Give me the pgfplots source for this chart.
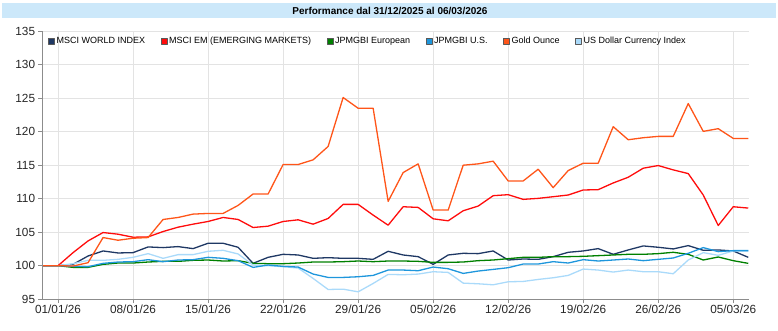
\documentclass[border=0pt]{standalone}
\usepackage{fontspec}
\setmainfont{Liberation Sans}
\usepackage{pgfplots}
\pgfplotsset{compat=1.18}
\usepackage{pgfplotstable}
\definecolor{cworld}{RGB}{31,56,100}
\definecolor{cem}{RGB}{255,12,12}
\definecolor{ceur}{RGB}{0,128,0}
\definecolor{cus}{RGB}{30,150,220}
\definecolor{cgold}{RGB}{255,85,25}
\definecolor{cusd}{RGB}{170,218,250}
\definecolor{ctitle}{RGB}{204,232,250}

\pgfplotstableread{
i world em eur us gold usd
-1 100 100 100 100 100 100
0 100 100 100 100 100 100
1 100.2 101.95 99.75 99.9 99.95 100.3
2 101.45 103.7 99.75 99.85 100.45 100.8
3 102.2 104.95 100.2 100.35 104.2 100.8
4 101.9 104.7 100.4 100.55 103.8 100.95
5 101.95 104.25 100.4 100.6 104.1 101.25
6 102.8 104.3 100.55 100.9 104.2 101.8
7 102.7 105.1 100.65 100.6 106.9 101.1
8 102.85 105.75 100.65 100.85 107.2 101.65
9 102.55 106.2 100.8 100.9 107.7 101.65
10 103.35 106.6 100.85 101.25 107.8 102.15
11 103.35 107.2 100.7 101.1 107.8 102.3
12 102.75 106.9 100.75 100.75 109.0 101.75
13 100.35 105.7 100.35 99.75 110.7 100.1
14 101.25 105.9 100.3 100.1 110.7 100.0
15 101.7 106.6 100.3 99.9 115.1 99.85
16 101.6 106.85 100.4 99.8 115.1 99.65
17 101.1 106.2 100.55 98.75 115.8 98.1
18 101.2 107.05 100.55 98.25 117.8 96.45
19 101.1 109.15 100.6 98.25 125.1 96.5
20 101.1 109.15 100.7 98.35 123.5 96.1
21 100.95 107.55 100.6 98.55 123.5 97.35
22 102.15 106.05 100.7 99.35 109.6 98.7
23 101.6 108.8 100.7 99.35 113.9 98.65
24 101.35 108.7 100.65 99.25 115.2 98.75
25 100.2 107.0 100.5 99.8 108.3 99.1
26 101.6 106.7 100.5 99.55 108.3 99.0
27 101.85 108.2 100.55 98.85 115.0 97.4
28 101.8 108.9 100.75 99.2 115.2 97.3
29 102.2 110.45 100.85 99.45 115.6 97.15
30 100.85 110.6 101.05 99.7 112.65 97.6
31 101.0 109.9 101.25 100.25 112.65 97.65
32 100.95 110.05 101.25 100.25 114.4 97.95
33 101.35 110.3 101.35 100.6 111.65 98.2
34 102.0 110.55 101.35 100.4 114.2 98.55
35 102.2 111.3 101.4 100.9 115.3 99.5
36 102.55 111.35 101.5 100.7 115.3 99.35
37 101.7 112.35 101.6 100.85 120.75 99.05
38 102.35 113.2 101.7 101.0 118.8 99.35
39 102.95 114.55 101.7 100.75 119.1 99.1
40 102.75 114.95 101.8 100.95 119.3 99.1
41 102.5 114.3 102.0 101.15 119.3 98.8
42 103.0 113.75 101.7 101.85 124.2 100.85
43 102.3 110.55 100.85 102.7 120.05 101.95
44 102.35 106.0 101.3 102.1 120.45 101.55
45 102.2 108.8 100.75 102.25 119.0 102.2
46 101.25 108.6 100.35 102.25 119.0 102.2
}\data

\begin{document}
\begin{tikzpicture}
\useasboundingbox (0bp,0bp) rectangle (778bp,331bp);
\fill[ctitle] (2bp,313bp) rectangle (776bp,328bp);
\node[font=\fontsize{10bp}{11bp}\selectfont\bfseries, inner sep=0pt] at (390bp,320.5bp) {Performance dal 31/12/2025 al 06/03/2026};
\begin{axis}[
  at={(42.3bp,31.8bp)}, anchor=south west,
  scale only axis, width=707bp, height=268bp,
  xmin=-1.05, xmax=46.07, ymin=95, ymax=135,
  axis lines*=left,
  axis line style={draw=gray!90, line width=0.8bp},
  xtick={0,5,...,45},
  xticklabels={01/01/26,08/01/26,15/01/26,22/01/26,29/01/26,05/02/26,12/02/26,19/02/26,26/02/26,05/03/26},
  ytick={95,100,...,135},
  tick align=outside,
  major tick length=4bp,
  tick style={draw=gray!90, line width=0.6bp},
  grid=major,
  major grid style={draw=gray!22, line width=0.8bp},
  /pgf/number format/assume math mode=true,
  tick label style={font=\fontsize{11.8bp}{12.5bp}\selectfont, text=black!85},
  xticklabel style={anchor=north, inner sep=0pt, yshift=-2bp},
  yticklabel style={anchor=east, inner sep=0pt, xshift=-3bp},
  legend columns=6,
  legend style={draw=none, fill=none, at={(axis description cs:0.008,0.963)}, anchor=west,
     font=\fontsize{9bp}{10bp}\selectfont, inner sep=0pt,
     /tikz/every even column/.append style={column sep=13.5bp}},
  legend cell align=left,
  every axis plot/.append style={line width=1.3bp, line join=round},
]
\addplot[cworld, forget plot] table[x=i,y=world]{\data};
\addplot[cem, forget plot] table[x=i,y=em]{\data};
\addplot[ceur, forget plot] table[x=i,y=eur]{\data};
\addplot[cusd, forget plot] table[x=i,y=usd]{\data};
\addplot[cus, forget plot] table[x=i,y=us]{\data};
\addplot[cgold, forget plot] table[x=i,y=gold]{\data};
\addlegendimage{legend image code/.code={\draw[fill=cworld,draw=black!65,line width=0.5bp] (0bp,-3bp) rectangle (6bp,3bp);}}
\addlegendentry{MSCI WORLD INDEX}
\addlegendimage{legend image code/.code={\draw[fill=cem,draw=black!65,line width=0.5bp] (0bp,-3bp) rectangle (6bp,3bp);}}
\addlegendentry{MSCI EM (EMERGING MARKETS)}
\addlegendimage{legend image code/.code={\draw[fill=ceur,draw=black!65,line width=0.5bp] (0bp,-3bp) rectangle (6bp,3bp);}}
\addlegendentry{JPMGBI European}
\addlegendimage{legend image code/.code={\draw[fill=cus,draw=black!65,line width=0.5bp] (0bp,-3bp) rectangle (6bp,3bp);}}
\addlegendentry{JPMGBI U.S.}
\addlegendimage{legend image code/.code={\draw[fill=cgold,draw=black!65,line width=0.5bp] (0bp,-3bp) rectangle (6bp,3bp);}}
\addlegendentry{Gold Ounce}
\addlegendimage{legend image code/.code={\draw[fill=cusd,draw=black!65,line width=0.5bp] (0bp,-3bp) rectangle (6bp,3bp);}}
\addlegendentry{US Dollar Currency Index}
\end{axis}
\end{tikzpicture}
\end{document}
